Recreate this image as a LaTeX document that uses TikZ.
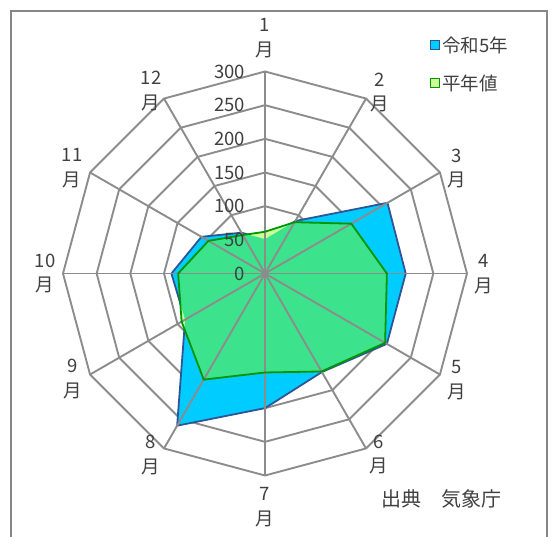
\documentclass[tikz,border=0pt]{standalone}
\usepackage{fontspec}
\setmainfont{Noto Sans CJK JP}
\definecolor{gridgray}{RGB}{140,140,140}
\definecolor{framegray}{RGB}{134,134,134}
\definecolor{bluefill}{RGB}{0,204,255}
\definecolor{blueline}{RGB}{47,85,151}
\definecolor{greenfill}{RGB}{204,255,153}
\definecolor{overlap}{RGB}{60,227,140}
\definecolor{greenline}{RGB}{0,150,0}
\definecolor{textgray}{RGB}{64,64,64}
\tikzset{
  gridline/.style={draw=gridgray, line width=1.9pt},
  lbl/.style={font=\fontsize{18.5}{24.5}\selectfont, text=textgray, align=center, inner sep=0pt},
  ticklbl/.style={font=\fontsize{18.5}{22}\selectfont, text=textgray, anchor=east, inner sep=0pt},
  legbox/.style={minimum size=9pt, inner sep=0pt, line width=1.4pt}
}
\begin{document}
\begin{tikzpicture}[x=1pt,y=1pt]
\useasboundingbox (0,0) rectangle (553,536);
% frame
\draw[framegray, line width=2pt] (11,-2) -- (11,525) -- (547,525) -- (547,-2);
\begin{scope}[shift={(265,262.5)}]
  \coordinate (O) at (0,0);
  % rings
  \foreach \lv in {1,...,6} {
    \draw[gridline, line join=miter] (90:\lv*33.667) \foreach \k in {1,...,11} { -- ({90-30*\k}:\lv*33.667) } -- cycle;
  }
  % data coordinates
  \foreach \v [count=\k from 0] in {51,90,210,209,209,169,200,261,137,139,109,70} {
    \coordinate (b\k) at ({90-30*\k}:\v*0.67333);
  }
  \foreach \v [count=\k from 0] in {62,88,148,181,206,168,147,182,143,129,97,66} {
    \coordinate (g\k) at ({90-30*\k}:\v*0.67333);
  }
  \foreach \k in {0,...,11} {
    \coordinate (s\k) at ({90-30*\k}:202);
  }
  % blue series
  \fill[bluefill] (b0) -- (b1) -- (b2) -- (b3) -- (b4) -- (b5) -- (b6) -- (b7) -- (b8) -- (b9) -- (b10) -- (b11) -- cycle;
  \draw[blueline, line width=1.8pt, line join=round] (b0) -- (b1) -- (b2) -- (b3) -- (b4) -- (b5) -- (b6) -- (b7) -- (b8) -- (b9) -- (b10) -- (b11) -- cycle;
  % green series (semi-transparent look)
  \fill[greenfill] (g0) -- (g1) -- (g2) -- (g3) -- (g4) -- (g5) -- (g6) -- (g7) -- (g8) -- (g9) -- (g10) -- (g11) -- cycle;
  \begin{scope}
    \clip (b0) -- (b1) -- (b2) -- (b3) -- (b4) -- (b5) -- (b6) -- (b7) -- (b8) -- (b9) -- (b10) -- (b11) -- cycle;
    \fill[overlap] (g0) -- (g1) -- (g2) -- (g3) -- (g4) -- (g5) -- (g6) -- (g7) -- (g8) -- (g9) -- (g10) -- (g11) -- cycle;
  \end{scope}
  % spokes
  \foreach \k in {0,...,11} {
    \draw[gridline] (O) -- (s\k);
  }
  \draw[greenline, line width=1.8pt, line join=round] (g0) -- (g1) -- (g2) -- (g3) -- (g4) -- (g5) -- (g6) -- (g7) -- (g8) -- (g9) -- (g10) -- (g11) -- cycle;
  \fill[gridgray] (O) circle (3pt);
\end{scope}
% tick labels
\foreach \t [count=\i from 0] in {0,50,100,150,200,250,300} {
  \node[ticklbl] (t\t) at (245,{262.5+\i*33.667}) {\t};
}
% month labels
\node[lbl] (m1) at (265,498) {1\\月};
\node[lbl] (m2) at (380,443.5) {2\\月};
\node[lbl] (m3) at (457,367.5) {3\\月};
\node[lbl] (m4) at (484,262) {4\\月};
\node[lbl] (m5) at (457,156) {5\\月};
\node[lbl] (m6) at (379,81.5) {6\\月};
\node[lbl] (m7) at (265,29) {7\\月};
\node[lbl] (m8) at (151,81) {8\\月};
\node[lbl] (m9) at (73,157) {9\\月};
\node[lbl] (m10) at (45,262.5) {10\\月};
\node[lbl] (m11) at (72,368) {11\\月};
\node[lbl] (m12) at (151,445) {12\\月};
% legend
\node[legbox, draw=blueline, fill=bluefill] (lb1) at (435,491) {};
\node[lbl, anchor=west] (lt1) at (442,491) {令和5年};
\node[legbox, draw=greenline, fill=greenfill] (lb2) at (435,453) {};
\node[lbl, anchor=west] (lt2) at (442,453) {平年値};
% source
\node[lbl, font=\fontsize{20}{24}\selectfont] (src) at (441.5,37) {出典　気象庁};
\end{tikzpicture}
\end{document}
